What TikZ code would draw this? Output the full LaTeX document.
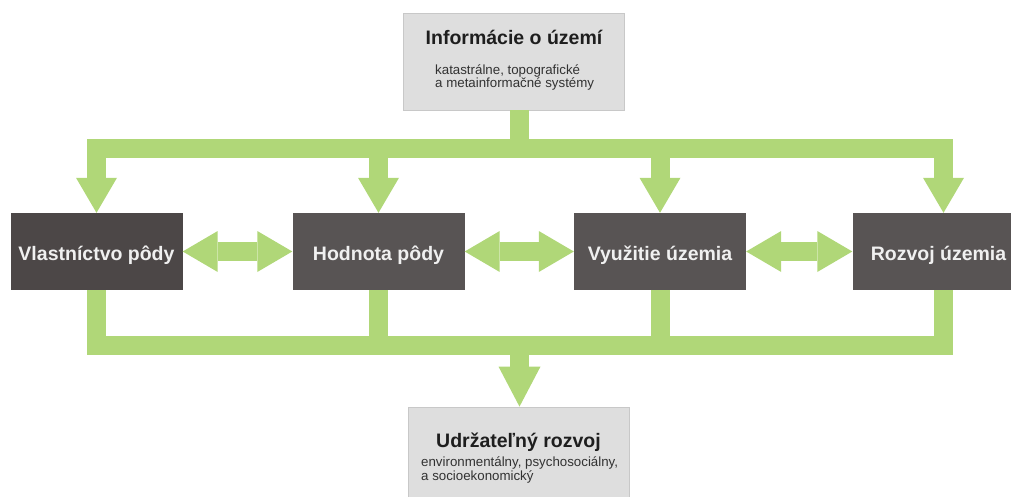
\documentclass[tikz,border=0pt]{standalone}
\usepackage{fontspec}
\setmainfont{Liberation Sans}
\usepackage{xcolor}
\usepackage{tikz}
\usetikzlibrary{arrows.meta}

\definecolor{pipegreen}{RGB}{176,215,120}
\definecolor{boxdark}{RGB}{88,84,84}
\definecolor{boxdarker}{RGB}{76,71,71}
\definecolor{boxlight}{RGB}{222,222,222}
\definecolor{boxedge}{RGB}{200,200,200}
\definecolor{titlegray}{RGB}{30,30,30}
\definecolor{notegray}{RGB}{50,50,50}

\tikzset{
    pipe/.style={draw=pipegreen,line width=19pt,line join=miter},
    fattip/.tip={Triangle[length=35pt,width=41pt,line width=0pt]},
    bigtip/.tip={Triangle[length=40pt,width=42pt,line width=0pt]},
    darkbox/.style={fill=boxdark,minimum width=172pt,minimum height=77pt,inner sep=0pt,
        text=white!94!black,font=\bfseries\fontsize{19.5}{20}\selectfont,text height=17pt,text depth=0pt},
    lightbox/.style={fill=boxlight,draw=boxedge,line width=0.8pt,minimum width=221pt,inner sep=0pt},
    boxtitle/.style={inner sep=0pt,text=titlegray,font=\bfseries\fontsize{19.5}{20}\selectfont},
    boxnote/.style={inner sep=0pt,text=notegray,font=\fontsize{13.3}{14}\selectfont}
}

\begin{document}
\begin{tikzpicture}[x=1pt,y=-1pt]
    \useasboundingbox (0,0) rectangle (1011,497);
    \clip (0,0) rectangle (1011,497);

    % top and bottom boxes
    \node[lightbox,minimum height=97pt] (info) at (513.5,61.5) {};
    \node[boxtitle,anchor=base] (infotitle) at (514,45) {Informácie o území};
    \node[boxnote,anchor=base west] (infonote1) at (435,75) {katastrálne, topografické};
    \node[boxnote,anchor=base west] (infonote2) at (435,87.5) {a metainformačné systémy};

    \node[lightbox,minimum height=100pt] (udrz) at (518.5,457) {};
    \node[boxtitle,anchor=base west] (udrztitle) at (436,447) {Udržateľný rozvoj};
    \node[boxnote,anchor=base west] (udrznote1) at (421,466) {environmentálny, psychosociálny,};
    \node[boxnote,anchor=base west] (udrznote2) at (421,480) {a socioekonomický};

    % the four dark boxes
    \node[darkbox,fill=boxdarker] (vlast) at (96.5,251.5) {Vlastníctvo pôdy};
    \node[darkbox] (hodnota) at (378.5,251.5) {Hodnota pôdy};
    \node[darkbox] (vyuzitie) at (660,251.5) {Využitie územia};
    \node[darkbox] (rozvoj) at (938.5,251.5) {Rozvoj územia};

    \coordinate (topbar) at (519,148.5);
    \coordinate (botbar) at (519.5,345.5);

    % pipes from the top box
    \draw[pipe] (topbar |- info.south) -- (topbar);
    \draw[pipe,fattip-fattip] (vlast.north) |- (topbar) -| ([xshift=5pt]rozvoj.north);
    \draw[pipe,-fattip] (hodnota.north |- topbar) -- (hodnota.north);
    \draw[pipe,-fattip] (vyuzitie.north |- topbar) -- (vyuzitie.north);

    % links between the dark boxes
    \draw[pipe,fattip-fattip] (vlast.east) -- (hodnota.west);
    \draw[pipe,fattip-fattip] (hodnota.east) -- (vyuzitie.west);
    \draw[pipe,fattip-fattip] (vyuzitie.east) -- (rozvoj.west);

    % pipes to the bottom box
    \draw[pipe] (vlast.south) |- (botbar) -| ([xshift=5pt]rozvoj.south);
    \draw[pipe] (hodnota.south) -- (hodnota.south |- botbar);
    \draw[pipe] (vyuzitie.south) -- (vyuzitie.south |- botbar);
    \draw[pipe,-bigtip] (botbar) -- (botbar |- udrz.north);
\end{tikzpicture}
\end{document}
